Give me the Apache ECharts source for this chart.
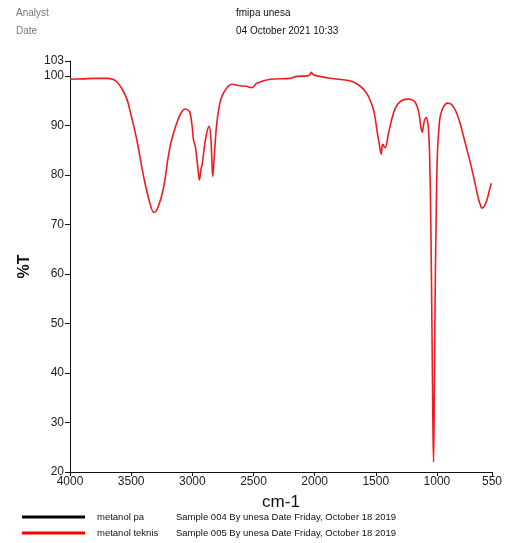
<!DOCTYPE html>
<html>
<head>
<meta charset="utf-8">
<script src="https://cdn.jsdelivr.net/npm/echarts@6/dist/echarts.min.js"></script>
<style>
  html, body { margin: 0; padding: 0; background: #fff; }
  #chart { width: 505px; height: 543px; }
</style>
</head>
<body>
<div id="chart"></div>
<script>
// FTIR spectrum of "metanol teknis" (wavenumber in cm-1, transmittance in %T)
const wavenumbers = [
  4000, 3900, 3800, 3700, 3650, 3618, 3580, 3536, 3500, 3454, 3400, 3350, 3313, 3280, 3237,
  3182, 3127, 3090, 3059, 3030, 3018, 3000, 2991, 2975, 2955, 2942, 2930, 2918, 2890, 2863,
  2850, 2840, 2833, 2820, 2800, 2780, 2759, 2720, 2677, 2609, 2560, 2513, 2473, 2364, 2200,
  2145, 2059, 2040, 2028, 2015, 1996, 1873, 1736, 1680, 1627, 1590, 1559, 1518, 1491, 1470,
  1456, 1447, 1442, 1430, 1423, 1396, 1355, 1320, 1273, 1230, 1191, 1170, 1150, 1130, 1120,
  1110, 1101, 1087, 1075, 1069, 1060, 1050, 1040, 1033, 1028, 1022, 1015, 1005, 995, 980,
  973, 950, 913, 880, 850, 815, 782, 713, 659, 640, 632, 615, 591, 570, 555
];
const transmittance = [
  99.3, 99.4, 99.5, 99.5, 99.3, 98.8, 97.6, 95.4, 92.0, 87.1, 79.9, 74.6, 72.4, 73.5, 77.2,
  85.7, 90.5, 92.6, 93.3, 93.0, 92.5, 89.5, 87.1, 85.7, 81.5, 79.0, 81.0, 82.4, 87.5, 89.8,
  88.0, 83.0, 79.7, 84.0, 90.4, 93.8, 95.8, 97.5, 98.3, 98.0, 97.9, 97.6, 98.5, 99.3, 99.5,
  99.9, 100.0, 100.2, 100.7, 100.3, 100.1, 99.5, 99.1, 98.7, 97.9, 97.0, 95.8, 93.1, 89.1, 86.0,
  84.2, 86.0, 86.2, 85.6, 85.5, 88.4, 92.5, 94.3, 95.2, 95.3, 95.0, 94.3, 92.8, 89.5, 88.6,
  90.0, 91.1, 91.6, 90.5, 89.1, 84.0, 70.0, 47.0, 30.0, 22.0, 34.0, 55.0, 74.0, 85.0, 90.5,
  91.8, 93.6, 94.5, 94.2, 93.1, 90.8, 87.7, 81.0, 75.0, 73.6, 73.3, 73.6, 75.0, 77.0, 78.3
];

const xTicks = [4000, 3500, 3000, 2500, 2000, 1500, 1000, 550];
const yTicks = [20, 30, 40, 50, 60, 70, 80, 90, 100, 103];

const header = [
  ['Analyst', 'fmipa unesa'],
  ['Date', '04 October 2021 10:33']
];
const legendItems = [
  { name: 'metanol pa', info: 'Sample 004 By unesa Date Friday, October 18 2019', color: '#000000' },
  { name: 'metanol teknis', info: 'Sample 005 By unesa Date Friday, October 18 2019', color: '#ff0000' }
];

const FONT = '"Liberation Sans", Arial, sans-serif';
const points = wavenumbers.map((w, i) => [w, transmittance[i]]);

const graphics = [];
header.forEach((row, i) => {
  graphics.push({ type: 'text', left: 16, top: 8 + i * 18,
    style: { text: row[0], font: '10px ' + FONT, fill: '#777' } });
  graphics.push({ type: 'text', left: 236, top: 8 + i * 18,
    style: { text: row[1], font: '10px ' + FONT, fill: '#111' } });
});
legendItems.forEach((it, i) => {
  const y = 517 + i * 16;
  graphics.push({ type: 'line', shape: { x1: 22, y1: y, x2: 85, y2: y },
    style: { stroke: it.color, lineWidth: 3 } });
  graphics.push({ type: 'text', x: 97, y: y, style: { text: it.name, font: '9.5px ' + FONT, fill: '#111', textVerticalAlign: 'middle' } });
  graphics.push({ type: 'text', x: 176, y: y, style: { text: it.info, font: '9.5px ' + FONT, fill: '#111', textVerticalAlign: 'middle' } });
});

const chart = echarts.init(document.getElementById('chart'), null, { renderer: 'canvas' });
chart.setOption({
  animation: false,
  backgroundColor: '#fff',
  grid: { left: 70, right: 13, top: 61, bottom: 71, containLabel: false },
  xAxis: {
    type: 'value', min: 550, max: 4000, inverse: true,
    name: 'cm-1', nameLocation: 'middle', nameGap: 22,
    nameTextStyle: { fontFamily: FONT, fontSize: 17, color: '#111' },
    axisLine: { lineStyle: { color: '#111', width: 1 } },
    axisTick: { show: true, customValues: xTicks, length: 4, lineStyle: { color: '#111' } },
    axisLabel: { customValues: xTicks, formatter: v => String(v), fontFamily: FONT, fontSize: 12, color: '#222', margin: 4 },
    splitLine: { show: false }
  },
  yAxis: {
    type: 'value', min: 20, max: 103,
    name: '%T', nameLocation: 'middle', nameGap: 36, nameRotate: 90,
    nameTextStyle: { fontFamily: FONT, fontSize: 16, fontWeight: 'bold', color: '#111' },
    axisLine: { show: true, lineStyle: { color: '#111', width: 1 } },
    axisTick: { show: true, customValues: yTicks, length: 5, lineStyle: { color: '#111' } },
    axisLabel: { customValues: yTicks, formatter: v => String(v), fontFamily: FONT, fontSize: 12, color: '#222', margin: 6 },
    splitLine: { show: false }
  },
  series: [{
    name: 'metanol teknis',
    type: 'line',
    data: points,
    showSymbol: false,
    smooth: 0.4,
    lineStyle: { color: '#ee1c24', width: 1.6 },
    z: 3
  }],
  graphic: graphics
});
</script>
</body>
</html>
